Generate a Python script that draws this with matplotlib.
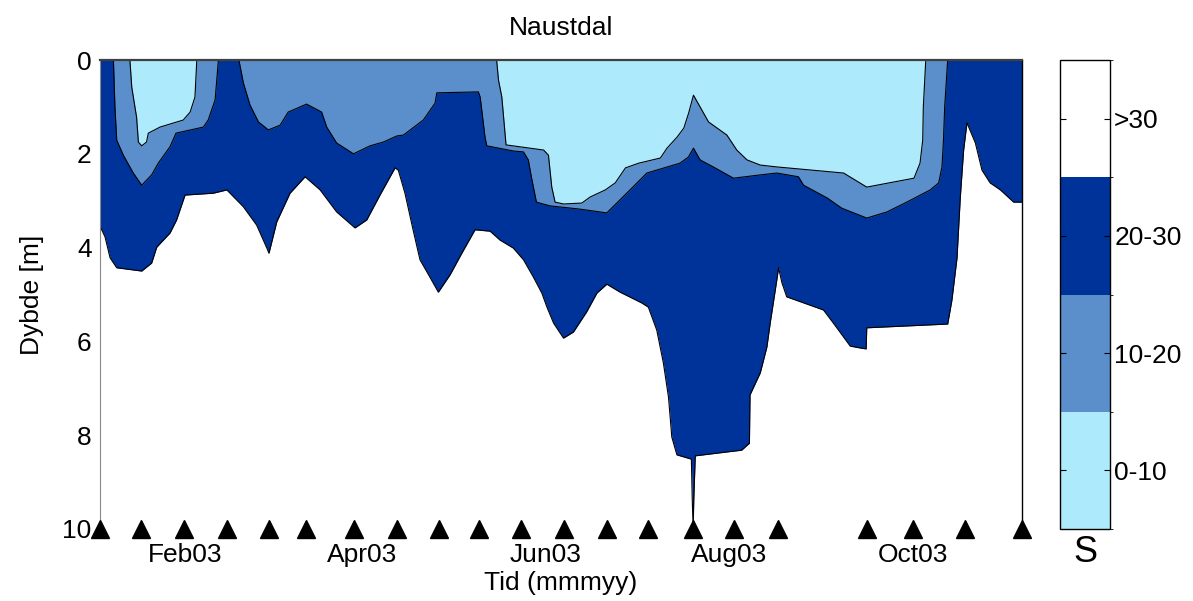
import datetime
import numpy as np
import matplotlib
matplotlib.use("Agg")
import matplotlib.pyplot as plt
import matplotlib.dates as mdates
from matplotlib.colors import ListedColormap, BoundaryNorm
from matplotlib.cm import ScalarMappable

plt.rcParams['font.family'] = ['Liberation Sans', 'DejaVu Sans']

# ---------------- data (days since 2003-01-01, depth in m) ----------------
sample_days = [2.74, 16.4, 30.7, 45.0, 58.9, 71.2, 87.2, 101.5, 115.4, 128.7,
               142.7, 157.0, 171.3, 184.9, 200.0, 213.5, 228.0, 257.7, 273.0,
               290.3, 309.1]

# isohaline S = 30 (lower edge of 20-30 class)
s30_days = [2.74, 3.3, 4.4, 6.1, 8.3, 16.6, 19.9, 21.6, 26.0, 28.2, 31.0, 40.4,
            44.9, 50.4, 54.8, 58.2, 58.9, 61.5, 65.9, 70.9, 75.9, 81.4, 87.5,
            91.4, 95.8, 100.8, 101.9, 104.1, 106.8, 109.1, 112.4, 115.2, 119.1,
            123.0, 127.4, 132.4, 135.7, 140.1, 143.5, 146.8, 149.6, 151.3,
            153.5, 156.8, 160.1, 164.5, 167.9, 171.2, 175.6, 182.8, 185.0,
            187.8, 190.0, 191.7, 192.8, 194.5, 199.3, 199.6, 199.9, 200.1,
            200.6, 213.3, 216.0, 218.6, 218.8, 222.2, 224.4, 225.5, 227.2,
            228.3, 229.4, 231.0, 243.2, 246.5, 252.1, 255.4, 257.4, 257.6,
            284.5, 285.9, 287.6, 288.7, 289.8, 290.9, 293.7, 295.9, 298.6,
            302.0, 306.4, 309.1]
s30_depth = [3.52, 3.62, 3.77, 4.22, 4.43, 4.50, 4.33, 3.99, 3.69, 3.41, 2.88,
             2.84, 2.77, 3.13, 3.52, 4.01, 4.12, 3.45, 2.84, 2.49, 2.77, 3.24,
             3.58, 3.41, 2.88, 2.30, 2.35, 2.84, 3.62, 4.26, 4.63, 4.95, 4.58,
             4.12, 3.62, 3.65, 3.84, 4.01, 4.26, 4.63, 4.97, 5.27, 5.61, 5.93,
             5.80, 5.37, 4.97, 4.78, 4.95, 5.18, 5.27, 5.76, 6.46, 7.19, 8.04,
             8.42, 8.51, 9.38, 10.0, 9.38, 8.44, 8.34, 8.32, 8.17, 7.14, 6.67,
             6.12, 5.61, 4.90, 4.43, 4.75, 5.05, 5.33, 5.61, 6.10, 6.14, 6.16,
             5.71, 5.63, 5.12, 4.22, 2.92, 1.92, 1.34, 1.77, 2.35, 2.62, 2.77,
             3.03, 3.03]

# isohaline S = 20
s20_days = [2.74, 7.2, 7.7, 8.3, 10.5, 13.8, 16.6, 19.9, 22.1, 26.0, 28.0,
            37.1, 38.7, 41.0, 42.1, 48.9, 50.4, 52.6, 55.4, 58.7, 62.6, 65.3,
            71.4, 76.4, 78.1, 81.4, 87.0, 92.5, 96.9, 101.4, 103.6, 110.2,
            114.1, 114.7, 128.5, 129.1, 130.7, 131.3, 140.1, 143.5, 145.1,
            146.2, 147.8, 152.3, 162.3, 171.2, 177.8, 184.5, 195.5, 198.3,
            200.0, 202.2, 206.6, 213.3, 222.2, 227.7, 234.9, 236.6, 244.4,
            249.3, 257.6, 264.3, 270.9, 278.7, 281.5, 282.6, 283.1, 283.5,
            284.5, 309.1]
s20_depth = [0.0, 0.0, 1.00, 1.71, 2.03, 2.41, 2.67, 2.45, 2.20, 1.85, 1.56,
             1.43, 1.28, 0.85, 0.0, 0.0, 0.49, 0.96, 1.32, 1.49, 1.39, 1.11,
             0.94, 1.11, 1.43, 1.77, 2.00, 1.83, 1.75, 1.62, 1.60, 1.28, 0.92,
             0.70, 0.68, 0.79, 1.64, 1.83, 1.94, 1.96, 2.13, 2.52, 3.03, 3.11,
             3.18, 3.26, 2.84, 2.41, 2.20, 2.07, 1.88, 2.13, 2.28, 2.52, 2.45,
             2.41, 2.49, 2.67, 2.94, 3.16, 3.37, 3.24, 3.03, 2.77, 2.62, 2.28,
             1.71, 1.00, 0.0, 0.0]

# isohaline S = 10
s10_days = [2.74, 12.4, 12.7, 13.3, 14.9, 15.5, 16.6, 18.2, 18.8, 22.7, 30.4,
            32.7, 34.3, 34.9, 35.1, 134.4, 134.6, 135.2, 136.3, 137.7, 150.2,
            151.8, 152.9, 154.0, 156.8, 162.9, 165.7, 170.7, 174.0, 177.4,
            181.8, 189.0, 191.2, 194.6, 196.8, 198.4, 200.0, 202.2, 205.0,
            211.1, 214.4, 217.8, 222.2, 227.7, 249.9, 257.6, 273.3, 275.3,
            276.2, 276.4, 277.2, 277.5, 309.1]
s10_depth = [0.0, 0.0, 0.02, 0.58, 1.22, 1.75, 1.83, 1.75, 1.56, 1.43, 1.28,
             1.11, 0.79, 0.02, 0.0, 0.0, 0.02, 0.43, 0.79, 1.81, 1.92, 2.03,
             2.71, 3.03, 3.07, 3.05, 2.92, 2.77, 2.62, 2.30, 2.20, 2.09, 1.88,
             1.64, 1.45, 1.13, 0.75, 1.00, 1.32, 1.60, 1.92, 2.13, 2.24, 2.28,
             2.41, 2.71, 2.52, 2.20, 1.71, 1.00, 0.02, 0.0, 0.0]

class_labels = ['0-10', '10-20', '20-30', '>30']
class_levels = [0, 10, 20, 30, 40]
month_ticks = [2, 4, 6, 8, 10]

c_light = '#ADEBFC'
c_mid = '#5A8FCB'
c_dark = '#003399'
class_colors = [c_light, c_mid, c_dark, '#FFFFFF']

# ---------------- figure ----------------
W, H = 1193, 601
fig = plt.figure(figsize=(W / 100, H / 100), dpi=100)
ax = fig.add_axes([100 / W, 1 - 529 / H, 921.7 / W, 469 / H])

base = mdates.date2num(datetime.datetime(2003, 1, 1))

def tx(days):
    return base + np.asarray(days, dtype=float)

layers = [(s30_days, s30_depth, c_dark), (s20_days, s20_depth, c_mid),
          (s10_days, s10_depth, c_light)]
z = 1.0
for d, dep, col in layers:
    x = tx(d)
    y = np.asarray(dep)
    ax.fill_between(x, 0, y, color=col, lw=0, zorder=z)
    ax.plot(x, y, color='black', lw=0.8, zorder=z + 0.1)
    z += 0.2

xs = tx(sample_days)
ax.plot(xs, np.full(len(xs), 10.0), linestyle='none', marker='^',
        color='black', markersize=12.5, clip_on=False, zorder=5)

ax.set_xlim(xs[0], xs[-1])
ax.set_ylim(10, 0)
ax.set_yticks([0, 2, 4, 6, 8, 10])
ax.xaxis.set_major_locator(mdates.MonthLocator(bymonth=month_ticks))
ax.xaxis.set_major_formatter(mdates.DateFormatter('%b%y'))
ax.tick_params(axis='x', direction='in', length=0, pad=10, labelsize=19)
ax.tick_params(axis='y', direction='in', length=0, pad=6, labelsize=19)

ax.spines['top'].set_color('#404040')
ax.spines['top'].set_linewidth(1.6)
ax.spines['left'].set_color('#888888')
ax.spines['left'].set_linewidth(0.8)
ax.spines['right'].set_color('black')
ax.spines['right'].set_linewidth(1.0)
ax.spines['bottom'].set_visible(False)

ax.set_title('Naustdal', fontsize=19, pad=18)
ax.set_xlabel('Tid (mmmyy)', fontsize=19, labelpad=3)
ax.set_ylabel('Dybde [m]', fontsize=19, labelpad=13)

# ---------------- colour bar ----------------
cax = fig.add_axes([1060 / W, 1 - 529 / H, 50 / W, 469 / H])
sm = ScalarMappable(norm=BoundaryNorm(class_levels, 4),
                    cmap=ListedColormap(class_colors))
centers = [(a + b) / 2 for a, b in zip(class_levels[:-1], class_levels[1:])]
cb = fig.colorbar(sm, cax=cax, ticks=centers)
cb.set_ticklabels(class_labels)
cb.outline.set_linewidth(1.0)
cb.outline.set_edgecolor('black')
cax.tick_params(direction='in', left=True, right=True, length=4, width=0.8,
                pad=3, labelsize=19)
cax.set_xlabel('S', fontsize=26, labelpad=4, fontstyle='normal',
               family=['Liberation Sans', 'DejaVu Sans'])

fig.savefig('out.png', dpi=100)
